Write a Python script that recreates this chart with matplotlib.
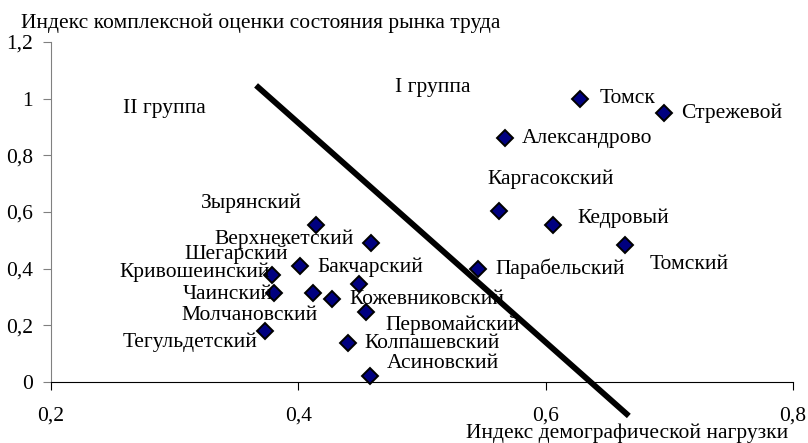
import matplotlib
matplotlib.use("Agg")
import matplotlib.pyplot as plt

plt.rcParams['font.family'] = ['Liberation Serif', 'DejaVu Serif']

# districts: demographic load index (x) vs labour market index (y)
names = ['Томск', 'Стрежевой', 'Александрово', 'Каргасокский', 'Кедровый',
         'Томский', 'Парабельский', 'Зырянский', 'Верхнекетский', 'Шегарский',
         'Кривошеинский', 'Бакчарский', 'Чаинский', 'Молчановский',
         'Кожевниковский', 'Первомайский', 'Тегульдетский', 'Колпашевский',
         'Асиновский']
demo_idx = [0.628, 0.696, 0.567, 0.562, 0.606, 0.664, 0.545, 0.414, 0.459,
            0.401, 0.379, 0.449, 0.380, 0.412, 0.427, 0.455, 0.373, 0.440,
            0.458]
labour_idx = [1.00, 0.95, 0.86, 0.605, 0.554, 0.484, 0.398, 0.554, 0.492,
              0.409, 0.378, 0.346, 0.315, 0.315, 0.292, 0.248, 0.181, 0.137,
              0.021]

# dividing line between the two groups
split_x = [0.3676, 0.6655]
split_y = [1.04, -0.113]

# label placement: (dx px, dy px, horizontal alignment)
label_pos = {
    'Томск': (19, 0, 'left'), 'Стрежевой': (17, 0, 'left'),
    'Александрово': (17, 0, 'left'), 'Каргасокский': (52, 31, 'center'),
    'Кедровый': (24, 7, 'left'), 'Томский': (25, -20, 'left'),
    'Парабельский': (18, 0, 'left'), 'Зырянский': (-64, 22, 'center'),
    'Верхнекетский': (-17, 3, 'right'), 'Шегарский': (-11, 12, 'right'),
    'Кривошеинский': (-2, 3, 'right'), 'Бакчарский': (-41, 17, 'left'),
    'Чаинский': (-1, -2, 'right'), 'Молчановский': (5, -23, 'right'),
    'Кожевниковский': (18, 0, 'left'), 'Первомайский': (19, -14, 'left'),
    'Тегульдетский': (-7, -12, 'right'), 'Колпашевский': (17, 0, 'left'),
    'Асиновский': (17, 13, 'left'),
}

FS = 15.5

fig = plt.figure(figsize=(8.08, 4.43), dpi=100)
ax = fig.add_axes([0.0631, 0.1377, 0.9183, 0.7675])

ax.plot(demo_idx, labour_idx, 'D', color='#000080', markeredgecolor='black',
        markeredgewidth=1.4, markersize=7.8, zorder=3, clip_on=False)
ax.plot(split_x, split_y, color='black', lw=4.2, clip_on=False, zorder=2)

for n, x, y in zip(names, demo_idx, labour_idx):
    dx, dy, ha = label_pos[n]
    ax.annotate(n, (x, y), xytext=(dx, dy), textcoords='offset pixels',
                ha=ha, va='center', fontsize=FS, zorder=4)

ax.text(0.509, 1.041, 'I группа', fontsize=FS, ha='center', va='center')
ax.text(0.292, 0.967, 'II группа', fontsize=FS, ha='center', va='center')

ax.set_xlim(0.2, 0.8)
ax.set_ylim(0, 1.2)
ax.set_xticks([0.2, 0.4, 0.6, 0.8])
ax.set_xticklabels(['0,2', '0,4', '0,6', '0,8'])
ax.set_yticks([0, 0.2, 0.4, 0.6, 0.8, 1.0, 1.2])
ax.set_yticklabels(['0', '0,2', '0,4', '0,6', '0,8', '1', '1,2'])
ax.tick_params(axis='x', direction='out', length=6, pad=11.5, labelsize=FS)
ax.tick_params(axis='y', direction='out', length=6, pad=7, labelsize=FS,
               color='#808080')
ax.spines['top'].set_visible(False)
ax.spines['right'].set_visible(False)
ax.spines['left'].set_color('#808080')
ax.spines['bottom'].set_color('black')

fig.text(0.026, 0.948, 'Индекс комплексной оценки состояния рынка труда',
         fontsize=FS, ha='left', va='center')
fig.text(0.976, 0.022, 'Индекс демографической нагрузки',
         fontsize=FS, ha='right', va='center')

fig.savefig('out.png', dpi=100)
